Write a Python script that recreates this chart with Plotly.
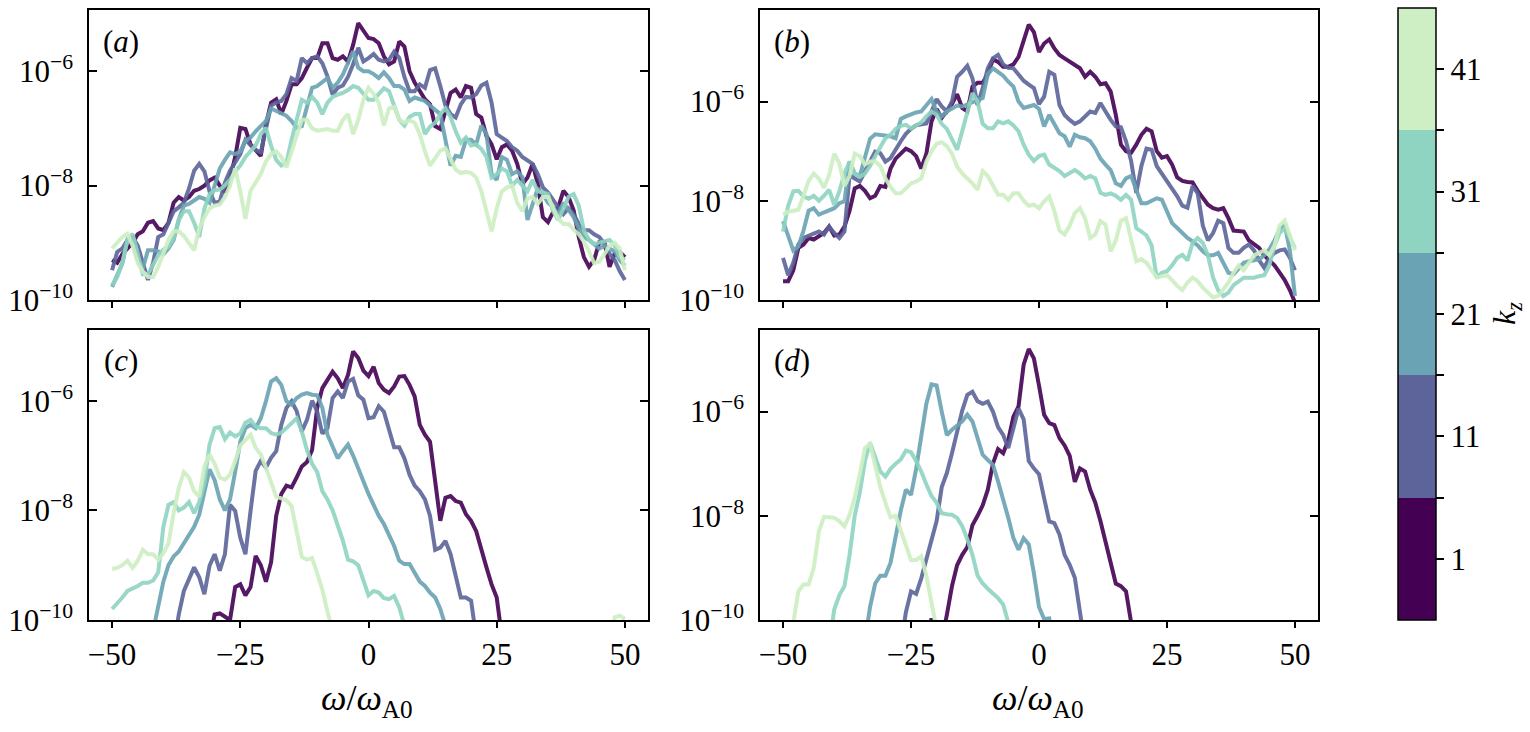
import plotly.graph_objects as go

# ---------------- data (log10 of spectral power) ----------------
omega = list(range(-50, 51))
kz = [1, 11, 21, 31, 41]
colors = ["#440154", "#5c6499", "#6aa3b3", "#8ed4c1", "#cdefc3"]
tick_x = [-50, -25, 0, 25, 50]
tick_x_text = ["\u221250", "\u221225", "0", "25", "50"]
tick_y = [1e-10, 1e-8, 1e-6]
tick_y_text = ["10<sup>\u221210</sup>", "10<sup>\u22128</sup>", "10<sup>\u22126</sup>"]

# panel (a)
a_k1 = [
 -9.30, -9.35, -9.20, -9.10, -9.00, -8.85, -8.80, -8.65, -8.62, -8.75,
 -8.78, -8.65, -8.30, -8.20, -8.26, -8.20, -8.09, -8.06, -8.00, -7.91,
 -7.86, -8.00, -8.12, -7.88, -7.50, -6.99, -7.01, -7.28, -7.39, -7.48,
 -6.93, -6.55, -6.49, -6.75, -6.52, -6.23, -6.23, -6.12, -5.94, -5.77,
 -5.77, -5.51, -5.51, -5.77, -5.80, -5.74, -5.83, -5.54, -5.16, -5.28,
 -5.42, -5.44, -5.51, -5.74, -5.88, -5.83, -5.48, -5.57, -6.00, -6.20,
 -6.35, -6.49, -6.58, -6.96, -7.01, -6.72, -6.38, -6.32, -6.46, -6.26,
 -6.29, -6.75, -6.81, -7.13, -7.28, -7.54, -7.33, -7.28, -7.39, -7.62,
 -7.97, -7.86, -7.62, -7.97, -8.55, -8.64, -8.46, -8.38, -8.09, -8.20,
 -8.43, -8.90, -9.25, -9.42, -9.30, -8.99, -8.99, -9.42, -9.19, -9.16,
 -9.25]
a_k11 = [
 -9.48, -9.16, -9.10, -8.95, -8.90, -9.05, -9.35, -9.65, -9.35, -8.90,
 -8.85, -8.64, -8.45, -8.38, -8.30, -8.05, -7.74, -7.62, -7.75, -8.10,
 -8.30, -8.28, -7.95, -7.74, -7.60, -7.45, -7.20, -7.30, -7.38, -7.42,
 -7.04, -6.60, -6.55, -6.52, -6.40, -6.12, -6.17, -5.77, -5.86, -5.77,
 -5.74, -5.86, -6.09, -6.41, -6.29, -6.25, -6.10, -5.88, -5.59, -5.83,
 -5.77, -5.70, -5.80, -5.83, -5.80, -5.66, -5.77, -6.10, -6.35, -6.35,
 -6.23, -6.29, -5.98, -5.95, -6.26, -6.60, -6.75, -6.81, -6.58, -6.45,
 -6.46, -6.40, -6.25, -6.20, -6.55, -7.10, -7.16, -7.22, -7.33, -7.39,
 -7.50, -7.56, -7.62, -7.80, -8.03, -8.12, -8.26, -8.38, -8.50, -8.40,
 -8.50, -8.67, -8.78, -8.78, -8.85, -8.90, -9.02, -9.19, -9.30, -9.50,
 -9.65]
a_k21 = [
 -9.77, -9.55, -9.36, -8.95, -9.00, -9.28, -9.45, -9.13, -9.13, -9.15,
 -9.20, -9.10, -8.95, -8.60, -8.35, -8.32, -8.25, -8.20, -8.23, -8.30,
 -8.00, -7.70, -7.55, -7.42, -7.45, -7.40, -7.22, -7.16, -7.05, -6.95,
 -6.87, -6.65, -6.70, -6.75, -6.78, -6.87, -6.99, -6.96, -6.60, -6.29,
 -6.26, -6.20, -6.12, -6.29, -6.20, -6.06, -5.85, -5.65, -5.94, -6.00,
 -6.00, -6.05, -6.12, -6.02, -6.12, -6.26, -6.26, -6.32, -6.52, -6.46,
 -6.49, -6.52, -6.60, -6.67, -6.75, -7.20, -7.65, -7.48, -7.50, -7.20,
 -7.20, -7.28, -6.95, -7.10, -7.80, -7.90, -7.50, -7.55, -7.80, -7.75,
 -7.85, -8.60, -8.30, -8.05, -8.15, -8.30, -8.38, -8.50, -8.30, -8.42,
 -8.55, -8.75, -8.90, -8.95, -9.02, -9.10, -9.05, -9.10, -9.15, -9.30,
 -9.40]
a_k31 = [
 -9.74, -9.60, -9.35, -8.95, -8.84, -9.20, -9.55, -9.55, -9.40, -9.22,
 -9.12, -9.07, -8.92, -8.60, -8.45, -8.45, -8.65, -8.90, -8.40, -8.15,
 -8.08, -8.07, -8.00, -7.90, -7.75, -7.65, -7.50, -7.40, -7.30, -7.10,
 -6.99, -7.30, -7.55, -7.65, -7.60, -7.20, -6.87, -6.50, -6.55, -6.45,
 -6.55, -6.75, -6.55, -6.45, -6.41, -6.38, -6.33, -6.26, -6.29, -6.40,
 -6.50, -6.50, -6.40, -6.30, -6.35, -6.60, -6.85, -6.95, -6.80, -6.75,
 -6.75, -7.10, -6.97, -6.90, -6.75, -6.65, -6.80, -7.05, -7.25, -7.16,
 -7.30, -7.28, -7.36, -7.50, -7.86, -7.80, -7.70, -7.75, -8.00, -7.90,
 -8.00, -8.10, -7.90, -8.10, -8.12, -8.15, -8.45, -8.60, -8.40, -8.20,
 -8.15, -8.35, -8.78, -8.95, -9.02, -9.00, -8.98, -8.95, -9.05, -9.25,
 -9.30]
a_k41 = [
 -9.10, -9.00, -8.90, -8.84, -9.05, -9.35, -9.50, -9.60, -9.60, -9.42,
 -9.20, -8.95, -8.80, -8.80, -8.88, -9.01, -9.13, -8.75, -8.55, -8.40,
 -8.35, -8.33, -8.20, -8.00, -7.70, -8.10, -8.58, -8.09, -7.95, -7.80,
 -7.58, -7.45, -7.40, -7.50, -7.68, -7.40, -7.10, -6.85, -6.85, -7.00,
 -7.04, -7.02, -7.01, -7.04, -7.04, -6.85, -6.75, -7.10, -6.85, -6.50,
 -6.29, -6.40, -6.55, -6.95, -6.65, -6.62, -6.85, -6.90, -6.86, -6.90,
 -7.10, -7.40, -7.65, -7.52, -7.39, -7.35, -7.55, -7.72, -7.78, -7.76,
 -7.78, -7.86, -8.10, -8.45, -8.80, -8.40, -8.10, -8.03, -8.00, -8.30,
 -8.45, -8.22, -8.20, -8.32, -8.20, -8.20, -8.40, -8.58, -8.67, -8.67,
 -8.77, -8.85, -8.98, -9.15, -9.36, -9.33, -9.20, -9.05, -9.00, -9.10,
 -9.48]

# panel (b)
b_k1 = [
 -9.62, -9.62, -9.40, -8.95, -8.88, -8.75, -8.78, -8.72, -8.65, -8.52,
 -8.70, -8.68, -8.52, -8.20, -7.75, -7.70, -7.80, -7.95, -7.90, -7.70,
 -7.72, -7.35, -7.15, -7.05, -6.95, -7.00, -7.10, -7.35, -7.05, -6.40,
 -6.15, -6.33, -6.20, -6.05, -5.85, -6.13, -6.20, -5.70, -5.62, -5.62,
 -5.45, -5.15, -5.20, -5.30, -5.30, -5.25, -5.10, -4.80, -4.45, -4.60,
 -5.00, -4.83, -4.75, -4.93, -5.06, -5.13, -5.20, -5.27, -5.33, -5.50,
 -5.40, -5.50, -5.65, -5.63, -5.80, -6.27, -6.87, -7.00, -7.03, -6.87,
 -6.67, -6.55, -6.60, -7.00, -7.13, -7.10, -7.27, -7.53, -7.60, -7.62,
 -7.63, -7.80, -7.95, -8.08, -8.15, -8.18, -8.15, -8.35, -8.60, -8.62,
 -8.62, -8.80, -8.87, -8.95, -9.10, -9.20, -9.30, -9.45, -9.60, -9.80,
 -10.05]
b_k11 = [
 -9.15, -9.50, -9.25, -8.88, -8.75, -8.70, -8.65, -8.62, -8.68, -8.52,
 -8.65, -8.75, -8.62, -7.48, -7.55, -7.61, -7.41, -7.21, -7.01, -7.04,
 -7.21, -7.14, -6.95, -6.80, -6.65, -6.55, -6.48, -6.45, -6.44, -6.20,
 -5.95, -6.10, -6.20, -6.00, -5.50, -5.40, -5.28, -5.53, -6.07, -5.73,
 -5.33, -5.13, -5.06, -5.25, -5.32, -5.33, -5.45, -5.58, -5.66, -5.73,
 -6.05, -5.90, -5.40, -5.46, -6.07, -6.27, -6.37, -6.45, -6.40, -6.30,
 -6.20, -6.23, -6.03, -6.20, -6.37, -6.50, -6.52, -6.80, -7.20, -7.84,
 -7.30, -6.95, -6.97, -7.30, -7.45, -7.60, -7.75, -7.91, -8.10, -8.14,
 -7.70, -7.85, -8.50, -8.80, -8.65, -8.40, -8.45, -8.95, -9.05, -9.05,
 -8.95, -8.88, -9.00, -9.20, -9.35, -9.15, -9.05, -9.00, -8.98, -9.15,
 -9.40]
b_k21 = [
 -8.41, -8.70, -9.00, -8.92, -8.60, -8.20, -8.15, -8.28, -8.24, -8.21,
 -8.15, -8.05, -8.01, -7.21, -7.45, -7.50, -7.15, -6.75, -6.66, -6.67,
 -6.67, -6.70, -6.74, -6.35, -6.30, -6.25, -6.22, -6.20, -6.07, -5.95,
 -6.20, -6.30, -6.20, -6.13, -6.08, -6.10, -6.05, -6.00, -5.97, -5.93,
 -5.45, -5.33, -5.40, -5.48, -5.60, -5.70, -6.00, -6.13, -6.10, -6.07,
 -6.15, -6.50, -6.27, -6.47, -6.64, -6.70, -6.91, -6.67, -6.72, -6.74,
 -6.80, -6.95, -7.15, -7.27, -7.38, -7.65, -7.70, -7.55, -7.50, -7.78,
 -8.05, -8.05, -8.01, -7.95, -7.98, -8.20, -8.45, -8.55, -8.65, -8.75,
 -8.82, -8.90, -9.02, -9.10, -9.10, -9.05, -9.25, -9.45, -9.48, -9.35,
 -9.25, -9.22, -9.20, -9.18, -9.10, -8.98, -8.80, -8.58, -8.48, -9.00,
 -9.92]
b_k31 = [
 -8.62, -8.10, -7.81, -7.80, -7.91, -7.96, -7.90, -8.00, -7.90, -7.78,
 -8.08, -7.81, -7.45, -7.21, -7.45, -7.52, -7.45, -7.30, -7.10, -6.90,
 -6.74, -6.67, -6.55, -6.49, -6.47, -6.54, -6.47, -6.42, -6.30, -6.20,
 -6.27, -6.45, -6.55, -6.75, -6.97, -6.60, -6.20, -5.83, -6.00, -6.45,
 -6.54, -6.54, -6.40, -6.44, -6.40, -6.48, -6.60, -6.87, -7.07, -7.20,
 -7.10, -7.07, -7.27, -7.34, -7.40, -7.50, -7.45, -7.38, -7.45, -7.55,
 -7.50, -7.55, -7.84, -7.88, -7.85, -7.90, -7.98, -7.88, -7.98, -8.55,
 -8.62, -8.70, -8.90, -9.55, -9.45, -9.42, -9.30, -9.15, -9.09, -9.20,
 -8.85, -8.75, -8.85, -9.10, -9.55, -9.80, -9.92, -9.85, -9.70, -9.62,
 -9.55, -9.55, -9.55, -9.52, -9.50, -9.30, -8.90, -8.65, -8.55, -8.75,
 -8.95]
b_k41 = [
 -8.28, -8.22, -8.20, -8.18, -7.90, -7.60, -7.45, -7.55, -7.74, -7.48,
 -7.05, -7.25, -7.70, -7.50, -7.05, -7.10, -7.27, -7.21, -7.21, -7.30,
 -7.55, -7.72, -7.85, -7.85, -7.75, -7.65, -7.61, -7.55, -7.21, -7.00,
 -6.85, -6.82, -6.90, -7.05, -7.31, -7.45, -7.55, -7.65, -7.78, -7.40,
 -7.50, -7.70, -7.88, -7.88, -7.98, -7.85, -7.85, -8.00, -8.10, -8.08,
 -8.15, -8.01, -7.91, -8.21, -8.60, -8.68, -8.50, -8.25, -8.15, -8.35,
 -8.75, -8.68, -8.41, -8.48, -9.02, -8.80, -8.40, -8.35, -8.75, -9.22,
 -9.18, -9.25, -9.40, -9.55, -9.52, -9.50, -9.60, -9.72, -9.80, -9.65,
 -9.55, -9.62, -9.75, -9.85, -9.95, -9.92, -9.80, -9.65, -9.45, -9.30,
 -9.40, -9.25, -9.10, -9.05, -9.00, -9.10, -8.90, -8.50, -8.40, -8.70,
 -9.00]

# panel (c)  (None = far below the plotted range)
c_k1 = [
 None, None, None, None, None, None, None, None, None, None,
 None, None, None, None, None, None, None, None, None, -10.4,
 -9.90, -9.88, -9.95, -10.0, -9.40, -9.35, -9.55, -9.40, -8.83, -9.00,
 -9.30, -8.95, -8.10, -7.70, -7.55, -7.58, -7.40, -7.20, -7.12, -6.90,
 -6.13, -5.77, -5.62, -5.47, -5.59, -5.77, -5.53, -5.10, -5.22, -5.45,
 -5.55, -5.38, -5.68, -5.80, -5.86, -5.74, -5.56, -5.55, -5.71, -5.92,
 -6.44, -6.62, -6.75, -7.47, -8.19, -7.77, -7.74, -7.83, -7.86, -8.07,
 -8.19, -8.38, -8.74, -9.04, -9.35, -9.59, -10.3, None, None, None,
 None, None, None, None, None, None, None, None, None, None,
 None, None, None, None, None, None, None, None, None, None,
 None]
c_k11 = [
 None, None, None, None, None, None, None, None, None, None,
 None, None, -10.5, -9.90, -9.47, -9.25, -9.04, -9.22, -9.53, -9.01,
 -8.80, -9.10, -8.80, -7.90, -8.01, -8.50, -8.80, -8.01, -7.28, -7.10,
 -7.22, -7.04, -6.92, -6.44, -6.13, -6.01, -6.19, -6.56, -6.35, -6.00,
 -6.20, -6.60, -6.50, -5.95, -5.83, -5.95, -5.65, -5.60, -5.90, -5.98,
 -6.32, -6.30, -6.10, -6.20, -6.50, -6.85, -6.85, -7.05, -7.35, -7.55,
 -7.65, -7.80, -8.10, -8.72, -8.68, -8.56, -8.80, -9.22, -9.59, -9.59,
 -9.65, -10.3, None, None, None, None, None, None, None, None,
 None, None, None, None, None, None, None, None, None, None,
 None, None, None, None, None, None, None, None, None, None,
 None]
c_k21 = [
 None, None, None, None, None, None, None, -10.8, -10.2, -9.75,
 -9.30, -9.00, -8.84, -8.75, -8.60, -8.48, -8.30, -8.08, -7.70, -7.25,
 -7.45, -7.80, -8.00, -7.80, -7.30, -6.75, -6.50, -6.44, -6.50, -6.32,
 -6.01, -5.65, -5.59, -5.71, -6.01, -6.07, -5.95, -5.89, -5.86, -5.89,
 -5.90, -6.13, -6.62, -6.86, -7.05, -6.92, -6.80, -7.00, -7.25, -7.50,
 -7.70, -7.90, -8.10, -8.25, -8.45, -8.65, -8.92, -8.98, -8.98, -9.15,
 -9.30, -9.38, -9.50, -9.59, -9.80, -10.1, -10.8, None, None, None,
 None, None, None, None, None, None, None, None, None, None,
 None, None, None, None, None, None, None, None, None, None,
 None, None, None, None, None, None, None, None, None, None,
 None]
c_k31 = [
 -9.80, -9.70, -9.59, -9.47, -9.43, -9.38, -9.32, -9.32, -9.28, -9.13,
 -8.30, -7.90, -7.85, -8.00, -7.95, -7.85, -8.05, -7.85, -7.50, -6.80,
 -6.50, -6.48, -6.70, -6.58, -6.65, -6.60, -6.40, -6.35, -6.47, -6.50,
 -6.50, -6.59, -6.62, -6.58, -6.50, -6.42, -6.32, -6.56, -6.90, -7.15,
 -7.30, -7.65, -7.80, -8.00, -8.25, -8.55, -8.90, -8.93, -9.00, -9.30,
 -9.55, -9.47, -9.50, -9.60, -9.62, -9.56, -9.77, -10.1, -10.8, None,
 None, None, None, None, None, None, None, None, None, None,
 None, None, None, None, None, None, None, None, None, None,
 None, None, None, None, None, None, None, None, None, None,
 None, None, None, None, None, None, None, None, None, None,
 None]
c_k41 = [
 -9.07, -9.05, -9.00, -8.92, -9.05, -8.92, -8.72, -8.80, -8.80, -8.90,
 -8.78, -8.60, -8.05, -7.59, -7.30, -7.40, -7.65, -7.75, -7.20, -6.98,
 -7.15, -7.40, -7.44, -7.35, -7.10, -6.82, -6.72, -6.62, -6.86, -6.98,
 -7.22, -7.50, -7.75, -7.78, -7.82, -7.92, -8.35, -8.85, -8.90, -8.87,
 -9.15, -9.45, -9.85, -10.2, -10.8, None, None, None, None, None,
 None, None, None, None, None, None, None, None, None, None,
 None, None, None, None, None, None, None, None, None, None,
 None, None, None, None, None, None, None, None, None, None,
 None, None, None, None, None, None, None, None, None, None,
 None, None, None, None, None, None, None, -10.6, -9.95, -9.92,
 -9.98]

# panel (d)
d_k1 = [
 None, None, None, None, None, None, None, None, None, None,
 None, None, None, None, None, None, None, None, None, None,
 None, None, None, None, None, None, None, None, -10.5, -9.97,
 -10.4, -10.4, -9.90, -9.35, -8.95, -8.75, -8.60, -8.18, -8.00, -7.80,
 -7.50, -7.00, -6.72, -6.80, -6.55, -6.10, -5.90, -5.10, -4.80, -4.98,
 -5.50, -6.06, -6.22, -6.26, -6.51, -6.65, -6.85, -7.35, -7.09, -7.15,
 -7.50, -7.75, -8.10, -8.50, -8.95, -9.30, -9.35, -9.45, -10.05, -10.6,
 None, None, None, None, None, None, None, None, None, None,
 None, None, None, None, None, None, None, None, None, None,
 None, None, None, None, None, None, None, None, None, None,
 None]
d_k11 = [
 None, None, None, None, None, None, None, None, None, None,
 None, None, None, None, None, None, None, None, None, None,
 None, None, None, -10.5, -9.85, -9.45, -9.50, -9.20, -8.85, -8.50,
 -8.10, -7.45, -7.18, -6.80, -6.35, -5.98, -5.68, -5.62, -5.80, -5.85,
 -5.81, -6.00, -6.30, -6.45, -6.70, -6.30, -5.94, -6.15, -6.95, -7.09,
 -7.20, -7.66, -8.11, -8.14, -8.36, -8.75, -8.94, -9.19, -9.85, -10.5,
 None, None, None, None, None, None, None, None, None, None,
 None, None, None, None, None, None, None, None, None, None,
 None, None, None, None, None, None, None, None, None, None,
 None, None, None, None, None, None, None, None, None, None,
 None]
d_k21 = [
 None, None, None, None, None, None, None, None, None, None,
 None, None, None, None, None, None, -10.4, -9.75, -9.30, -9.15,
 -9.15, -8.90, -8.40, -7.90, -7.50, -7.60, -7.10, -6.45, -5.85, -5.48,
 -5.50, -6.00, -6.45, -6.35, -6.28, -6.19, -6.06, -6.19, -6.51, -6.83,
 -6.93, -7.02, -7.34, -7.66, -8.04, -8.43, -8.65, -8.43, -8.55, -9.10,
 -9.75, -9.98, -9.97, -10.5, None, None, None, None, None, None,
 None, None, None, None, None, None, None, None, None, None,
 None, None, None, None, None, None, None, None, None, None,
 None, None, None, None, None, None, None, None, None, None,
 None, None, None, None, None, None, None, None, None, None,
 None]
d_k31 = [
 None, None, None, None, None, None, None, None, None, -10.5,
 -9.80, -9.52, -9.35, -8.75, -8.00, -7.55, -6.95, -6.60, -6.85, -7.15,
 -7.25, -7.10, -7.00, -6.92, -6.75, -6.78, -6.95, -7.15, -7.40, -7.62,
 -7.75, -7.95, -7.97, -7.98, -8.04, -8.20, -8.45, -8.75, -9.15, -9.30,
 -9.40, -9.48, -9.58, -9.70, -10.05, -10.6, None, None, None, None,
 None, None, None, None, None, None, None, None, None, None,
 None, None, None, None, None, None, None, None, None, None,
 None, None, None, None, None, None, None, None, None, None,
 None, None, None, None, None, None, None, None, None, None,
 None, None, None, None, None, None, None, None, None, None,
 None]
d_k41 = [
 None, -10.5, -10.05, -9.45, -9.32, -9.32, -9.00, -8.30, -8.02, -8.03,
 -8.04, -8.10, -8.20, -7.98, -7.65, -7.20, -6.70, -6.62, -7.05, -7.45,
 -7.75, -8.03, -8.00, -8.30, -8.60, -8.85, -8.85, -8.78, -9.15, -9.60,
 -10.1, -10.7, None, None, None, None, None, None, None, None,
 None, None, None, None, None, None, None, None, None, None,
 None, None, None, None, None, None, None, None, None, None,
 None, None, None, None, None, None, None, None, None, None,
 None, None, None, None, None, None, None, None, None, None,
 None, None, None, None, None, None, None, None, None, None,
 None, None, None, None, None, None, None, None, None, None,
 None]

panel_data = {
    "a": [a_k1, a_k11, a_k21, a_k31, a_k41],
    "b": [b_k1, b_k11, b_k21, b_k31, b_k41],
    "c": [c_k1, c_k11, c_k21, c_k31, c_k41],
    "d": [d_k1, d_k11, d_k21, d_k31, d_k41],
}
panel_labels = ["a", "b", "c", "d"]

# ---------------- layout geometry (pixels) ----------------
W, H = 1530, 732
FONT = "Liberation Serif"
TICK = 31
geom = {
    "a": dict(x0=89, x1=648, y0=10, y1=300, top=-4.93, n=""),
    "b": dict(x0=760, x1=1318, y0=10, y1=300, top=-4.155, n="2"),
    "c": dict(x0=89, x1=648, y0=330, y1=620, top=-4.71, n="3"),
    "d": dict(x0=760, x1=1318, y0=330, y1=620, top=-4.435, n="4"),
}

fig = go.Figure()
for p in panel_labels:
    g = geom[p]
    for k, vals, col in zip(kz, panel_data[p], colors):
        yv = [None if v is None else 10 ** v for v in vals]
        fig.add_trace(go.Scatter(
            x=omega, y=yv, mode="lines", name=f"k_z={k}",
            line=dict(color=col, width=4.0), opacity=0.9,
            xaxis="x" + g["n"], yaxis="y" + g["n"],
            showlegend=False, hoverinfo="skip"))

# colour bar (discrete k_z)
cs = []
for i, c in enumerate(colors):
    cs.append([i / 5, c])
    cs.append([(i + 1) / 5, c])
fig.add_trace(go.Scatter(
    x=[0], y=[1e-30], mode="markers", xaxis="x", yaxis="y",
    marker=dict(color=[kz[0]], colorscale=cs, cmin=-4, cmax=46, size=1,
                showscale=True,
                colorbar=dict(
                    thickness=38, thicknessmode="pixels",
                    len=612, lenmode="pixels",
                    x=1398 / W, xanchor="left", xpad=0,
                    y=1 - 314 / H, yanchor="middle", ypad=0,
                    outlinewidth=1.5, outlinecolor="black",
                    tickvals=[1, 6, 11, 16, 21, 26, 31, 36, 41],
                    ticktext=["1", "", "11", "", "21", "", "31", "", "41"],
                    ticks="outside", ticklen=8, tickwidth=1.5, tickcolor="black",
                    tickfont=dict(family=FONT, size=TICK, color="black"),
                )),
    showlegend=False, hoverinfo="skip"))

layout = dict(
    width=W, height=H, autosize=False,
    margin=dict(l=0, r=0, t=0, b=0, pad=0, autoexpand=False),
    paper_bgcolor="white", plot_bgcolor="white",
    font=dict(family=FONT, size=TICK, color="black"),
)
for p in panel_labels:
    g = geom[p]
    xk = "xaxis" + g["n"]
    yk = "yaxis" + g["n"]
    bottom = p in ("c", "d")
    layout[xk] = dict(
        domain=[g["x0"] / W, g["x1"] / W],
        range=[-54.5, 54.5], anchor="y" + g["n"], automargin=False,
        showline=True, linecolor="black", linewidth=1.5, mirror=True,
        ticks="outside", ticklen=6, tickwidth=1.5, tickcolor="black",
        tickvals=tick_x, ticktext=tick_x_text,
        showticklabels=bottom, showgrid=False, zeroline=False,
        tickfont=dict(family=FONT, size=TICK, color="black"),
    )
    layout[yk] = dict(
        domain=[1 - g["y1"] / H, 1 - g["y0"] / H],
        type="log", range=[-10, g["top"]], anchor="x" + g["n"], automargin=False,
        showline=True, linecolor="black", linewidth=1.5, mirror="ticks",
        ticks="inside", ticklen=8, tickwidth=1.5, tickcolor="black",
        tickvals=tick_y, ticktext=tick_y_text,
        showgrid=False, zeroline=False, ticklabelstandoff=8,
        tickfont=dict(family=FONT, size=TICK, color="black"),
    )
fig.update_layout(**layout)

ann = []
for p in panel_labels:
    g = geom[p]
    ann.append(dict(text=f"(<i>{p}</i>)", x=(g["x0"] + 32) / W, y=1 - (g["y0"] + 31) / H,
                    xref="paper", yref="paper", showarrow=False,
                    font=dict(family=FONT, size=31, color="black"),
                    xanchor="center", yanchor="middle"))
for xc in (367, 1038):
    ann.append(dict(text="<i>\u03c9</i>/<i>\u03c9</i><sub>A0</sub>", x=xc / W, y=1 - 700 / H,
                    xref="paper", yref="paper", showarrow=False,
                    font=dict(family=FONT, size=36, color="black"),
                    xanchor="center", yanchor="middle"))
ann.append(dict(text="<i>k<sub>z</sub></i>", x=1507 / W, y=1 - 314 / H,
                xref="paper", yref="paper", showarrow=False, textangle=-90,
                font=dict(family=FONT, size=32, color="black"),
                xanchor="center", yanchor="middle"))
fig.update_layout(annotations=ann)

fig.write_html("out.html")
